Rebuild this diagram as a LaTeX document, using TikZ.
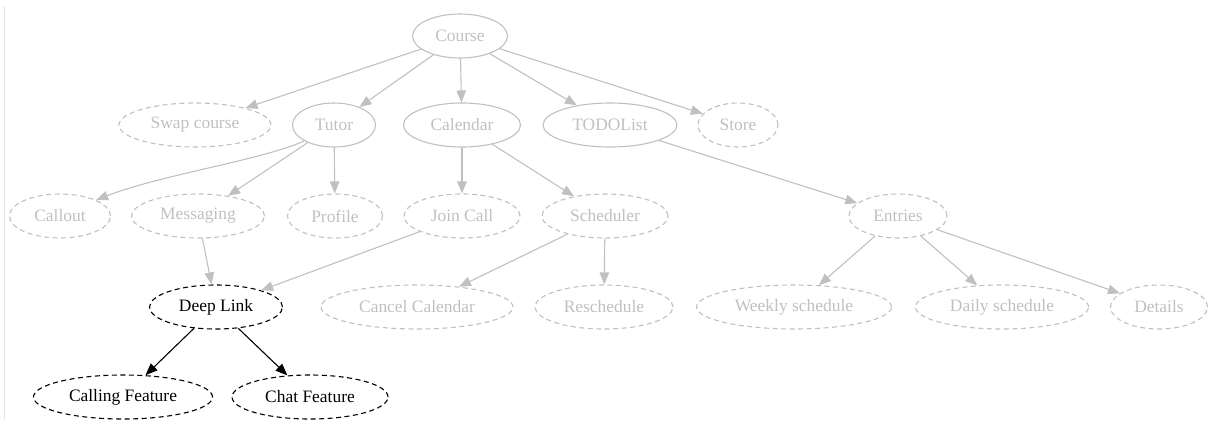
\documentclass[tikz,border=0pt]{standalone}
\usepackage{fontspec}
\setmainfont{Liberation Serif}
\usetikzlibrary{shapes.geometric,arrows.meta}

\definecolor{lightgray}{HTML}{C0C0C0}
\definecolor{framegray}{HTML}{E4E4E4}

\begin{document}
\begin{tikzpicture}[
    x=1bp, y=-1bp,
    font=\fontsize{17.5}{20}\selectfont,
    feature/.style={
        ellipse,
        draw=lightgray,
        text=lightgray,
        line width=1.1bp,
        minimum height=44bp,
        inner sep=0pt,
    },
    optional/.style={
        feature,
        dash pattern=on 5bp off 3.5bp,
    },
    linked/.style={
        optional,
        draw=black,
        text=black,
    },
    edge/.style={
        line width=1.1bp,
        draw=lightgray,
        -{Triangle[length=12bp,width=9.5bp,fill=lightgray]}
    },
    linkedge/.style={
        edge,
        draw=black,
        -{Triangle[length=12bp,width=9.5bp,fill=black]}
    }
]

    \useasboundingbox (0,0) rectangle (1209,420);
    \draw[framegray, line width=0.8bp] (4,6) -- (4,420);

    \node[feature, minimum width=95bp] (course) at (460,36) {Course};

    \node[optional, minimum width=152bp] (swap) at (195,125) {Swap course};
    \node[feature, minimum width=83bp] (tutor) at (334,125) {Tutor};
    \node[feature, minimum width=117bp] (calendar) at (462,125) {Calendar};
    \node[feature, minimum width=134bp] (todo) at (610,125) {TODOList};
    \node[optional, minimum width=80bp] (store) at (738,125) {Store};

    \node[optional, minimum width=101bp] (callout) at (60,216) {Callout};
    \node[optional, minimum width=133bp] (messaging) at (198,216) {Messaging};
    \node[optional, minimum width=95bp] (profile) at (335,216) {Profile};
    \node[optional, minimum width=116bp] (joincall) at (462,216) {Join Call};
    \node[optional, minimum width=126bp] (scheduler) at (605,216) {Scheduler};
    \node[optional, minimum width=98bp] (entries) at (898,216) {Entries};

    \node[linked, minimum width=133bp] (deeplink) at (216,307) {Deep Link};
    \node[optional, minimum width=192bp] (cancel) at (417,307) {Cancel Calendar};
    \node[optional, minimum width=138bp] (reschedule) at (604,307) {Reschedule};
    \node[optional, minimum width=195bp] (weekly) at (794,307) {Weekly schedule};
    \node[optional, minimum width=173bp] (daily) at (1002,307) {Daily schedule};
    \node[optional, minimum width=97bp] (details) at (1159,307) {Details};

    \node[linked, minimum width=179bp] (calling) at (123,397) {Calling Feature};
    \node[linked, minimum width=156bp] (chat) at (310,397) {Chat Feature};

    \draw[edge] (course) -- (swap);
    \draw[edge] (course) -- (tutor);
    \draw[edge] (course) -- (calendar);
    \draw[edge] (course) -- (todo);
    \draw[edge] (course) -- (store);

    \draw[edge] (tutor.south west) .. controls (262,160) and (160,175) .. (callout.north east);
    \draw[edge] (tutor) -- (messaging);
    \draw[edge] (tutor) -- (profile);
    \draw[edge] (calendar) -- (joincall);
    \draw[edge] (calendar) -- (scheduler);
    \draw[edge] (todo) -- (entries);

    \draw[edge] (messaging) -- (deeplink);
    \draw[edge] (joincall) -- (deeplink);
    \draw[edge] (scheduler) -- (cancel);
    \draw[edge] (scheduler) -- (reschedule);
    \draw[edge] (entries) -- (weekly);
    \draw[edge] (entries) -- (daily);
    \draw[edge] (entries) -- (details);

    \draw[linkedge] (deeplink) -- (calling);
    \draw[linkedge] (deeplink) -- (chat);
\end{tikzpicture}
\end{document}
